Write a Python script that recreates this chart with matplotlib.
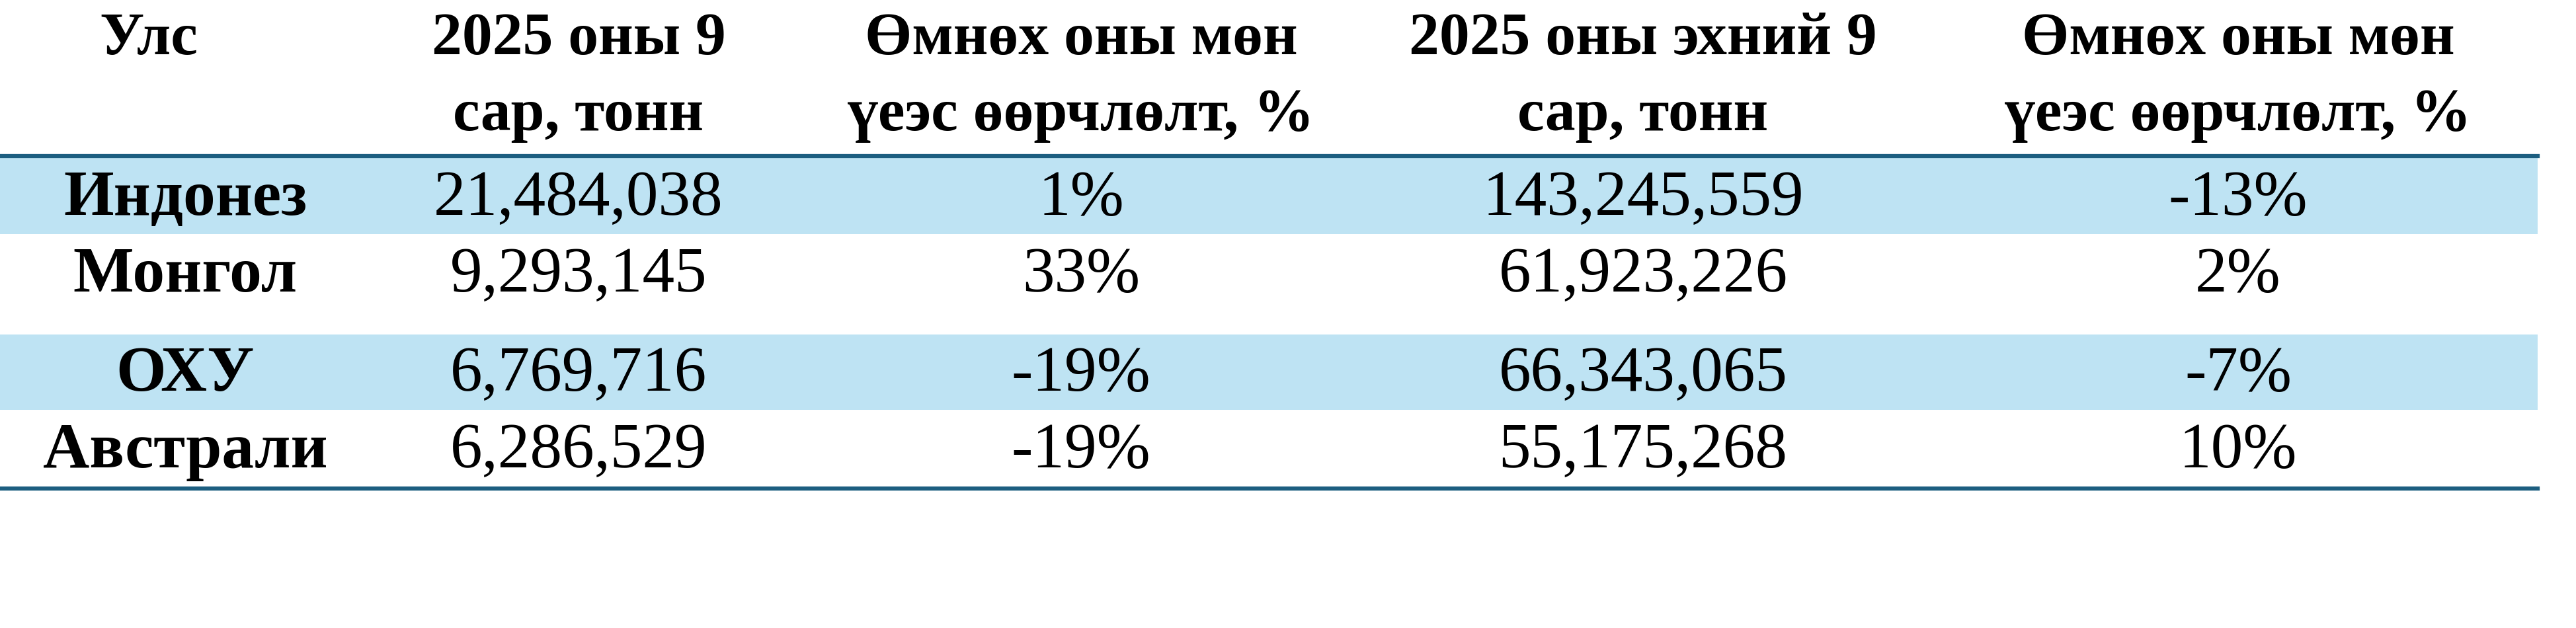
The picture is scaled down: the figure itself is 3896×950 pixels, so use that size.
import matplotlib

matplotlib.use("Agg")
import matplotlib.pyplot as plt
from matplotlib.patches import Rectangle

headers = ["Улс", "2025 оны 9\nсар, тонн", "Өмнөх оны мөн\nүеэс өөрчлөлт, %",
           "2025 оны эхний 9\nсар, тонн", "Өмнөх оны мөн\nүеэс өөрчлөлт, %"]
countries = ["Индонез", "Монгол", "ОХУ", "Австрали"]
month_tons = [21484038, 9293145, 6769716, 6286529]
month_change = [1, 33, -19, -19]
ytd_tons = [143245559, 61923226, 66343065, 55175268]
ytd_change = [-13, 2, -7, 10]

W, H = 3896, 950
head_x = [225, 875, 1635, 2485, 3385]
col_x = [280, 875, 1635, 2485, 3385]
row_y = [302, 418, 568, 684]
bands = [(239, 354), (506, 620)]
band_color = "#BEE3F3"
line_color = "#1C5E80"
font = "Liberation Serif"

fig = plt.figure(figsize=(W / 100, H / 100), dpi=100)
ax = fig.add_axes([0, 0, 1, 1])
ax.set_xlim(0, W)
ax.set_ylim(H, 0)
ax.axis("off")

for y0, y1 in bands:
    ax.add_patch(Rectangle((0, y0), 3838, y1 - y0, color=band_color, lw=0))
ax.plot([0, 3838], [236, 236], color=line_color, lw=4.5)
ax.plot([0, 3838], [739, 739], color=line_color, lw=4.5)

for x, h in zip(head_x, headers):
    for k, ln in enumerate(h.split("\n")):
        ax.text(x, 60 + 115 * k, ln, ha="center", va="center", family=font,
                fontweight="bold", fontsize=66)

for i, c in enumerate(countries):
    cells = [c, f"{month_tons[i]:,}", f"{month_change[i]}%",
             f"{ytd_tons[i]:,}", f"{ytd_change[i]}%"]
    for j, t in enumerate(cells):
        ax.text(col_x[j], row_y[i], t, ha="center", va="center", family=font,
                fontweight="bold" if j == 0 else "normal", fontsize=70)

fig.savefig("out.png", dpi=100)
